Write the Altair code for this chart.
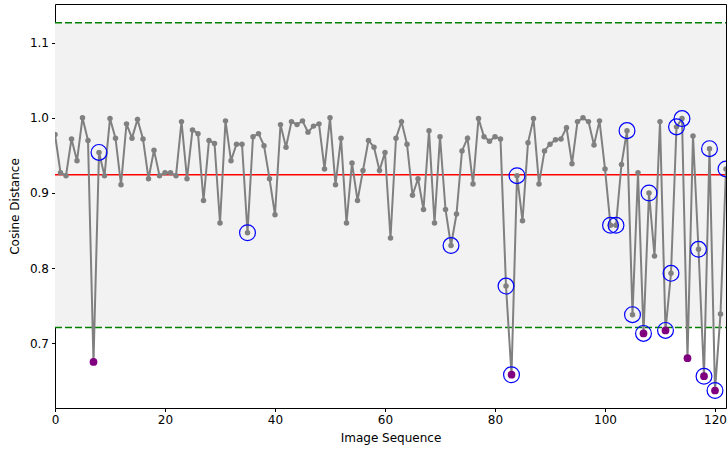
import altair as alt
import pandas as pd

values = [
    0.978, 0.927, 0.923, 0.972, 0.943, 1.000, 0.970, 0.675, 0.954, 0.923,
    0.999, 0.973, 0.911, 0.992, 0.973, 0.998, 0.972, 0.919, 0.957, 0.923,
    0.927, 0.927, 0.923, 0.995, 0.919, 0.984, 0.979, 0.890, 0.970, 0.966,
    0.860, 0.996, 0.943, 0.965, 0.965, 0.847, 0.975, 0.979, 0.963, 0.919,
    0.871, 0.991, 0.961, 0.995, 0.991, 0.996, 0.981, 0.989, 0.992, 0.932,
    1.000, 0.911, 0.973, 0.860, 0.940, 0.890, 0.930, 0.970, 0.961, 0.930,
    0.954, 0.840, 0.973, 0.995, 0.965, 0.897, 0.919, 0.878, 0.983, 0.860,
    0.975, 0.878, 0.830, 0.872, 0.956, 0.973, 0.912, 0.999, 0.975, 0.969,
    0.975, 0.972, 0.776, 0.658, 0.923, 0.863, 0.967, 0.999, 0.912, 0.956,
    0.965, 0.971, 0.972, 0.987, 0.939, 0.995, 1.000, 0.995, 0.964, 0.996,
    0.932, 0.857, 0.857, 0.938, 0.983, 0.738, 0.927, 0.713, 0.900, 0.816,
    0.995, 0.717, 0.793, 0.988, 0.999, 0.680, 0.976, 0.825, 0.656, 0.959,
    0.637, 0.739, 0.932,
]
circled = [8, 35, 72, 82, 83, 84, 101, 102, 104, 105, 107, 108, 111, 112,
           113, 114, 117, 118, 119, 120, 122]
mean_val = 0.9244
upper_val = 1.1267
lower_val = 0.7208
y_ticks = [0.7, 0.8, 0.9, 1.0, 1.1]
x_ticks = [0, 20, 40, 60, 80, 100, 120]

idx = list(range(len(values)))
df = pd.DataFrame({
    "idx": idx,
    "val": values,
    "outlier": [v < lower_val for v in values],
    "circled": [i in circled for i in idx],
})

W, H = 671, 404
xs = alt.Scale(domain=[0, len(values) - 1], nice=False, zero=False)
ys = alt.Scale(domain=[0.6137, 1.1516], nice=False, zero=False)

x_enc = alt.X("idx:Q", scale=xs, title="Image Sequence",
              axis=alt.Axis(values=x_ticks, format="d", labelFlush=False))
y_enc = alt.Y("val:Q", scale=ys, title="Cosine Distance",
              axis=alt.Axis(values=y_ticks, format=".1f", labelFlush=False))

base = alt.Chart(df)

band = alt.Chart(pd.DataFrame({"lo": [lower_val], "hi": [upper_val]})).mark_rect(
    color="#f2f2f2").encode(
    x=alt.value(0), x2=alt.value(W),
    y=alt.Y("lo:Q", scale=ys), y2="hi:Q")

hlines = pd.DataFrame({"y": [upper_val, lower_val]})
green = alt.Chart(hlines).mark_rule(color="green", strokeWidth=1.5,
                                    strokeDash=[7, 3]).encode(
    y=alt.Y("y:Q", scale=ys), x=alt.value(0), x2=alt.value(W))

red = alt.Chart(pd.DataFrame({"y": [mean_val]})).mark_rule(
    color="red", strokeWidth=1.5).encode(
    y=alt.Y("y:Q", scale=ys), x=alt.value(0), x2=alt.value(W))

line = base.mark_line(color="gray", strokeWidth=2, clip=True).encode(x=x_enc, y=y_enc)
pts = base.mark_circle(color="gray", size=30, opacity=1, clip=True).encode(x=x_enc, y=y_enc)
purple = base.transform_filter("datum.outlier").mark_circle(
    color="purple", size=60, opacity=1, clip=True).encode(x=x_enc, y=y_enc)
rings = base.transform_filter("datum.circled").mark_point(
    shape="circle", filled=False, color="blue", size=250, strokeWidth=1.2,
    opacity=1, clip=True).encode(x=x_enc, y=y_enc)

chart = alt.layer(band, green, red, line, pts, purple, rings).properties(
    width=W, height=H,
    autosize=alt.AutoSizeParams(type="none"),
    padding={"left": 55, "top": 4, "right": 1, "bottom": 41},
    background="white",
).configure_view(stroke="black", strokeWidth=1).configure_axis(
    grid=False, domain=False, tickColor="black", tickSize=3.5,
    labelColor="black", titleColor="black",
    labelFont="DejaVu Sans", titleFont="DejaVu Sans",
    labelFontSize=12, titleFontSize=12, titleFontWeight="normal",
    labelPadding=3,
).configure_axisY(titlePadding=8).configure_axisX(titlePadding=7)

chart.save("out.html", embed_options={"renderer": "svg", "actions": False})
